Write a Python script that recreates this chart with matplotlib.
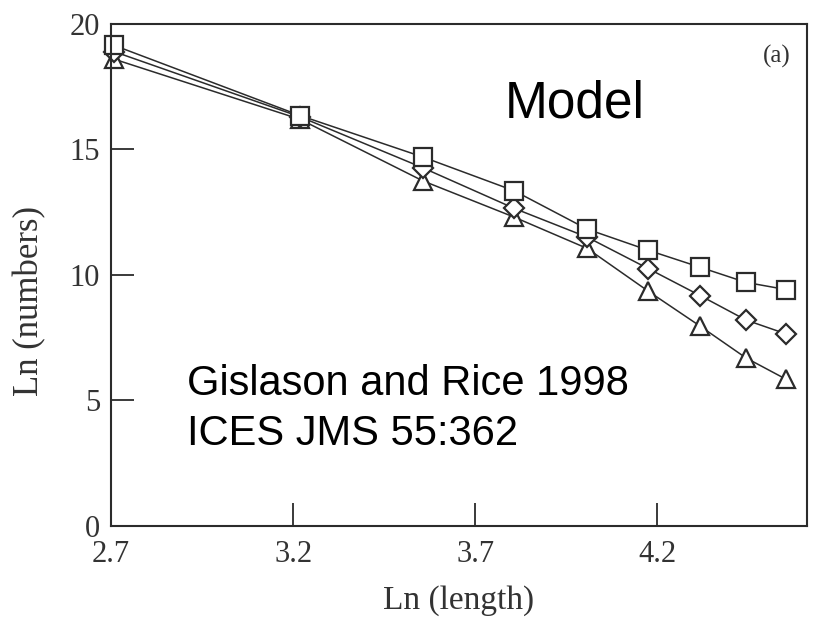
import numpy as np
import matplotlib
matplotlib.use('Agg')
import matplotlib.pyplot as plt

# Длины 15..95 см, по оси X - натуральный логарифм
lengths = [15, 25, 35, 45, 55, 65, 75, 85, 95]
ln_length = np.log(lengths)

# Ln (численность) для трёх сценариев модели
squares = [19.15, 16.35, 14.70, 13.35, 11.82, 10.98, 10.30, 9.70, 9.41]
diamonds = [18.90, 16.30, 14.27, 12.65, 11.50, 10.25, 9.17, 8.20, 7.64]
triangles = [18.60, 16.20, 13.75, 12.30, 11.05, 9.35, 7.95, 6.69, 5.83]

x_ticks = [2.7, 3.2, 3.7, 4.2]
y_ticks = [0, 5, 10, 15, 20]

line_color = '#2b2b2b'
text_color = '#333333'
serif = ['Liberation Serif', 'DejaVu Serif']
sans = ['Liberation Sans', 'DejaVu Sans']

fig = plt.figure(figsize=(8.15, 6.18), dpi=100)
ax = fig.add_axes([0.1362, 0.1494, 0.8538, 0.8118])

series = [
    (triangles, '^', 13),
    (diamonds, 'D', 10),
    (squares, 's', 13),
]
for values, marker, size in series:
    ax.plot(ln_length, values, color=line_color, linewidth=1.1,
            marker=marker, markersize=size, markerfacecolor='white',
            markeredgecolor=line_color, markeredgewidth=1.6, clip_on=False)

ax.set_xlim(2.7, 4.61)
ax.set_ylim(0, 20)
ax.set_xticks(x_ticks)
ax.set_xticklabels([f'{v:.1f}' for v in x_ticks], family=serif, fontsize=22)
ax.set_yticks(y_ticks)
ax.set_yticklabels([str(v) for v in y_ticks], family=serif, fontsize=22)
ax.tick_params(direction='in', length=16.5, width=1.3, color=line_color,
               top=False, right=False, labelcolor=text_color)
ax.tick_params(axis='x', pad=10)
ax.tick_params(axis='y', pad=8)

for spine in ax.spines.values():
    spine.set_linewidth(1.5)
    spine.set_color(line_color)

ax.set_xlabel('Ln (length)', family=serif, fontsize=24, color=text_color)
ax.set_ylabel('Ln (numbers)', family=serif, fontsize=25, color=text_color)
ax.xaxis.set_label_coords(0.5, -0.118)
ax.yaxis.set_label_coords(-0.093, 0.448)

ax.text(0.976, 0.958, '(a)', transform=ax.transAxes, ha='right', va='top',
        family=serif, fontsize=18, color=text_color)
fig.text(505 / 815, 1 - 117 / 618, 'Model', family=sans, fontsize=37,
         va='baseline', ha='left')
# подпись источника
fig.text(187 / 815, 1 - 395 / 618, 'Gislason and Rice 1998',
         family=sans, fontsize=30, va='baseline', ha='left')
fig.text(187 / 815, 1 - 445 / 618, 'ICES JMS 55:362',
         family=sans, fontsize=30, va='baseline', ha='left')

plt.savefig('out.png', dpi=100)
plt.close()
